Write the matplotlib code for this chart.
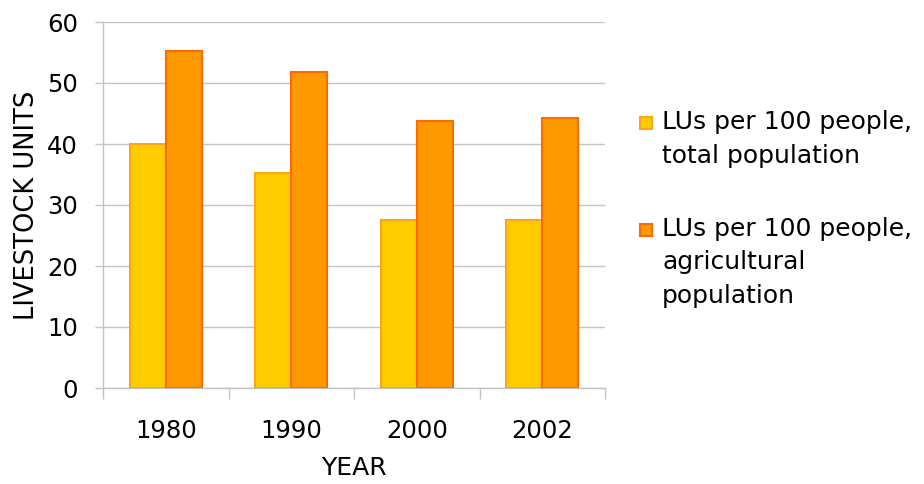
import matplotlib
matplotlib.use("Agg")
import matplotlib.pyplot as plt
from matplotlib.patches import Rectangle
import numpy as np

years = ["1980", "1990", "2000", "2002"]
total_pop = [40.0, 35.3, 27.5, 27.5]
agri_pop = [55.2, 51.8, 43.8, 44.3]
series_names = ["LUs per 100 people,\ntotal population",
                "LUs per 100 people,\nagricultural\npopulation"]
y_ticks = [0, 10, 20, 30, 40, 50, 60]

fill_colors = ["#FFCC00", "#FF9900"]
edge_colors = ["#FFA319", "#FF6A00"]

plt.rcParams['font.family'] = ['DejaVu Sans']
fs = 17.5

fig = plt.figure(figsize=(9.24, 4.84), dpi=100)
ax = fig.add_axes([103/924, 1 - 388/484, (605-103)/924, (388-22)/484])

x = np.arange(len(years))
w = 0.287
ax.bar(x - w/2, total_pop, width=w, color=fill_colors[0], edgecolor=edge_colors[0], linewidth=1.5, zorder=3)
ax.bar(x + w/2, agri_pop, width=w, color=fill_colors[1], edgecolor=edge_colors[1], linewidth=1.5, zorder=3)

ax.set_xlim(-0.5, len(years) - 0.5)
ax.set_ylim(0, 60)
ax.set_yticks(y_ticks)
ax.set_yticklabels([str(v) for v in y_ticks], fontsize=fs)
ax.yaxis.grid(True, color="#C4C4C4", linewidth=1.0, zorder=0)

# x ticks: labels at centers, tick marks at boundaries
ax.set_xticks(x)
ax.set_xticklabels(years, fontsize=fs)
ax.tick_params(axis='x', which='major', length=0, pad=22)
ax.set_xticks(np.arange(-0.5, len(years)), minor=True)
ax.tick_params(axis='x', which='minor', length=8, color="#C4C4C4", width=1.0)
ax.tick_params(axis='y', length=6, color="#C4C4C4", width=1.0, pad=12)

for s in ["top", "right"]:
    ax.spines[s].set_visible(False)
for s in ["left", "bottom"]:
    ax.spines[s].set_color("#C4C4C4")
    ax.spines[s].set_linewidth(1.0)

ax.set_xlabel("YEAR", fontsize=18, labelpad=10)
ax.set_ylabel("LIVESTOCK UNITS", fontsize=18.5, labelpad=5)

# legend drawn manually
leg_y = [123, 230]
for i, name in enumerate(series_names):
    yc = leg_y[i]
    fig.patches.append(Rectangle((640/924, 1 - (yc + 6)/484), 12/924, 12/484,
                                 transform=fig.transFigure, facecolor=fill_colors[i],
                                 edgecolor=edge_colors[i], linewidth=1.5))
    fig.text(662/924, 1 - (yc - 13)/484, name, fontsize=18, va='top', ha='left',
             linespacing=1.5)

fig.savefig("out.png", dpi=100)
